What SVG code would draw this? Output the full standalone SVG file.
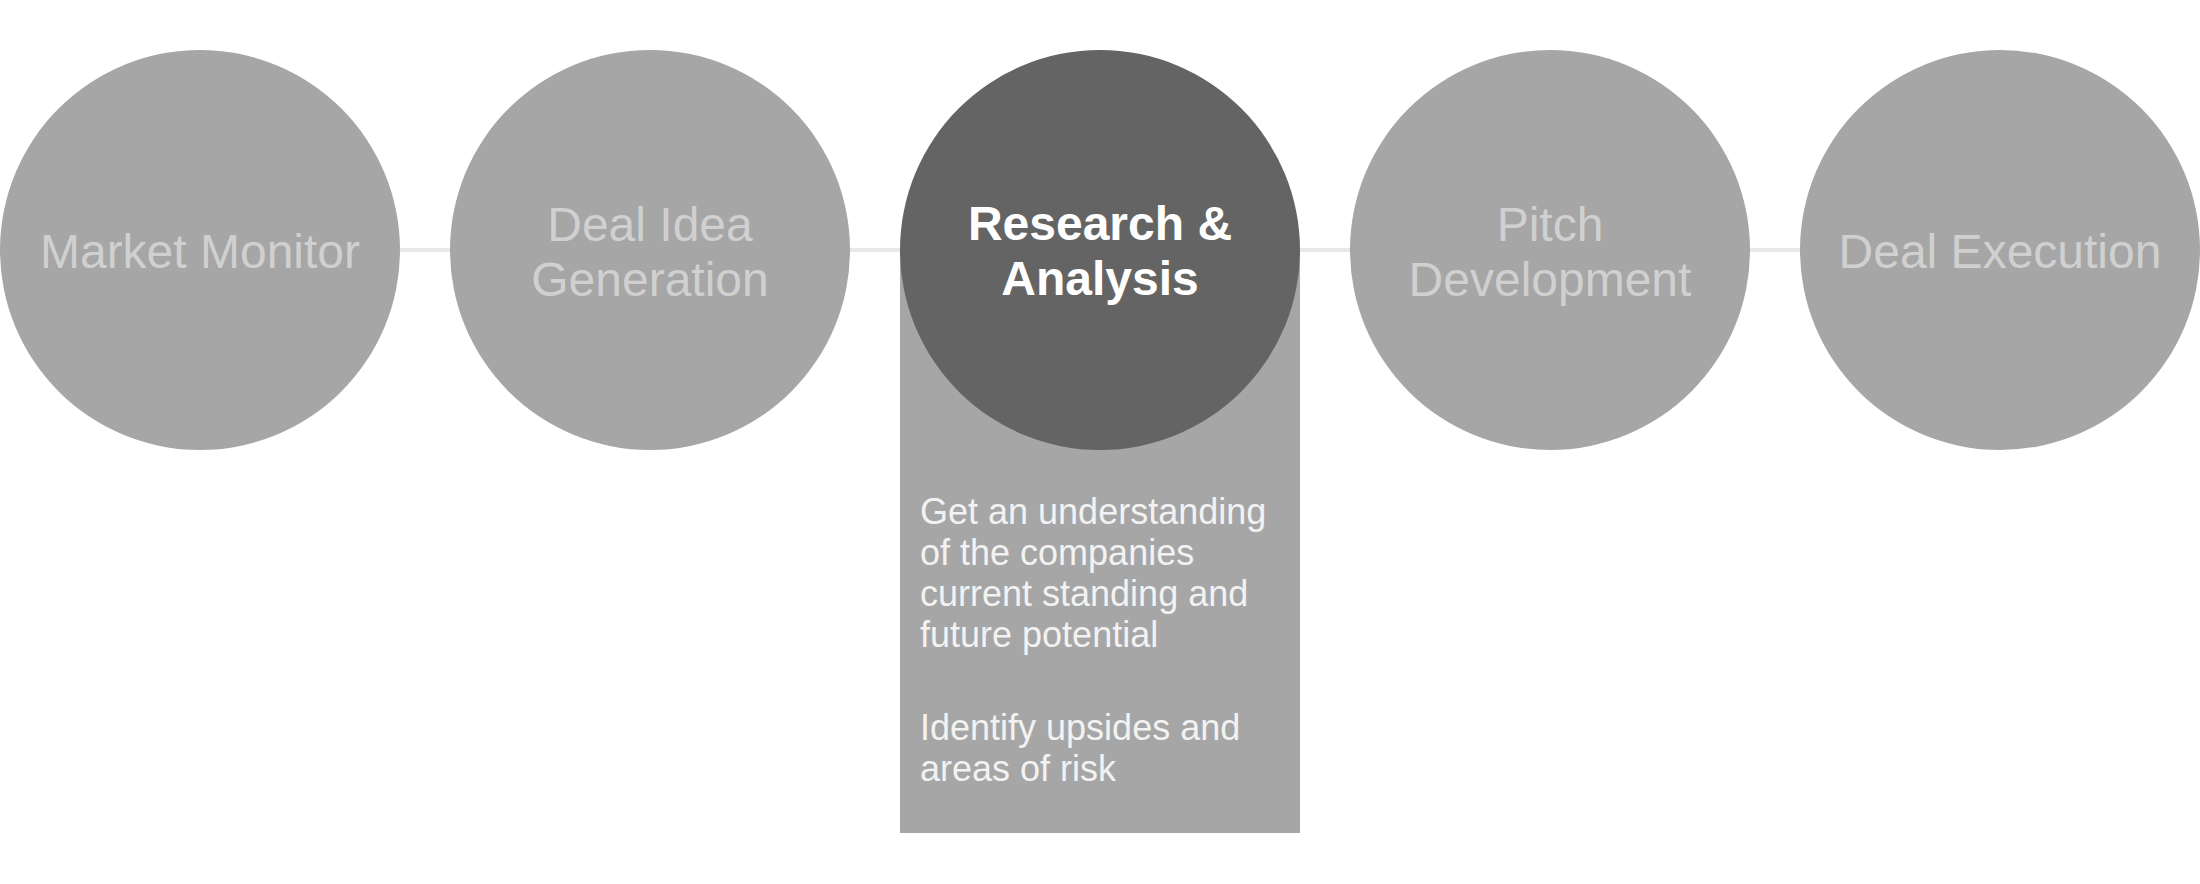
<svg xmlns="http://www.w3.org/2000/svg" width="2200" height="884" viewBox="0 0 2200 884">
  <style>
    .stage { fill: #a6a6a6; }
    .active { fill: #646464; }
    .lbl { font-family: "Liberation Sans", Arial, sans-serif; font-size: 48px; fill: #d0d0d0; text-anchor: middle; }
    .lbl-active { font-family: "Liberation Sans", Arial, sans-serif; font-size: 48px; font-weight: bold; fill: #ffffff; text-anchor: middle; }
    .body { font-family: "Liberation Sans", Arial, sans-serif; font-size: 36px; fill: #f2f2f2; }
    .conn { stroke: #e8e8e8; stroke-width: 4; fill: none; }
  </style>
  <rect width="2200" height="884" fill="#ffffff"/>
  <g id="connectors">
    <line class="conn" x1="400" y1="250" x2="450" y2="250"/>
    <line class="conn" x1="850" y1="250" x2="900" y2="250"/>
    <line class="conn" x1="1300" y1="250" x2="1350" y2="250"/>
    <line class="conn" x1="1750" y1="250" x2="1800" y2="250"/>
  </g>
  <g id="detail-panel">
    <rect class="stage" x="900" y="250" width="400" height="583"/>
    <text class="body" x="920" y="523.5">Get an understanding</text>
    <text class="body" x="920" y="564.5">of the companies</text>
    <text class="body" x="920" y="605.5">current standing and</text>
    <text class="body" x="920" y="646.5">future potential</text>
    <text class="body" x="920" y="739.5">Identify upsides and</text>
    <text class="body" x="920" y="780.5">areas of risk</text>
  </g>
  <g id="market-monitor">
    <circle class="stage" cx="200" cy="250" r="200"/>
    <text class="lbl" x="200" y="267.5">Market Monitor</text>
  </g>
  <g id="deal-idea-generation">
    <circle class="stage" cx="650" cy="250" r="200"/>
    <text class="lbl" x="650" y="240.5">Deal Idea</text>
    <text class="lbl" x="650" y="295.5">Generation</text>
  </g>
  <g id="research-analysis">
    <circle class="active" cx="1100" cy="250" r="200"/>
    <text class="lbl-active" x="1100" y="239.5">Research &amp;</text>
    <text class="lbl-active" x="1100" y="294.5">Analysis</text>
  </g>
  <g id="pitch-development">
    <circle class="stage" cx="1550" cy="250" r="200"/>
    <text class="lbl" x="1550" y="240.5">Pitch</text>
    <text class="lbl" x="1550" y="295.5">Development</text>
  </g>
  <g id="deal-execution">
    <circle class="stage" cx="2000" cy="250" r="200"/>
    <text class="lbl" x="2000" y="267.5">Deal Execution</text>
  </g>
</svg>
